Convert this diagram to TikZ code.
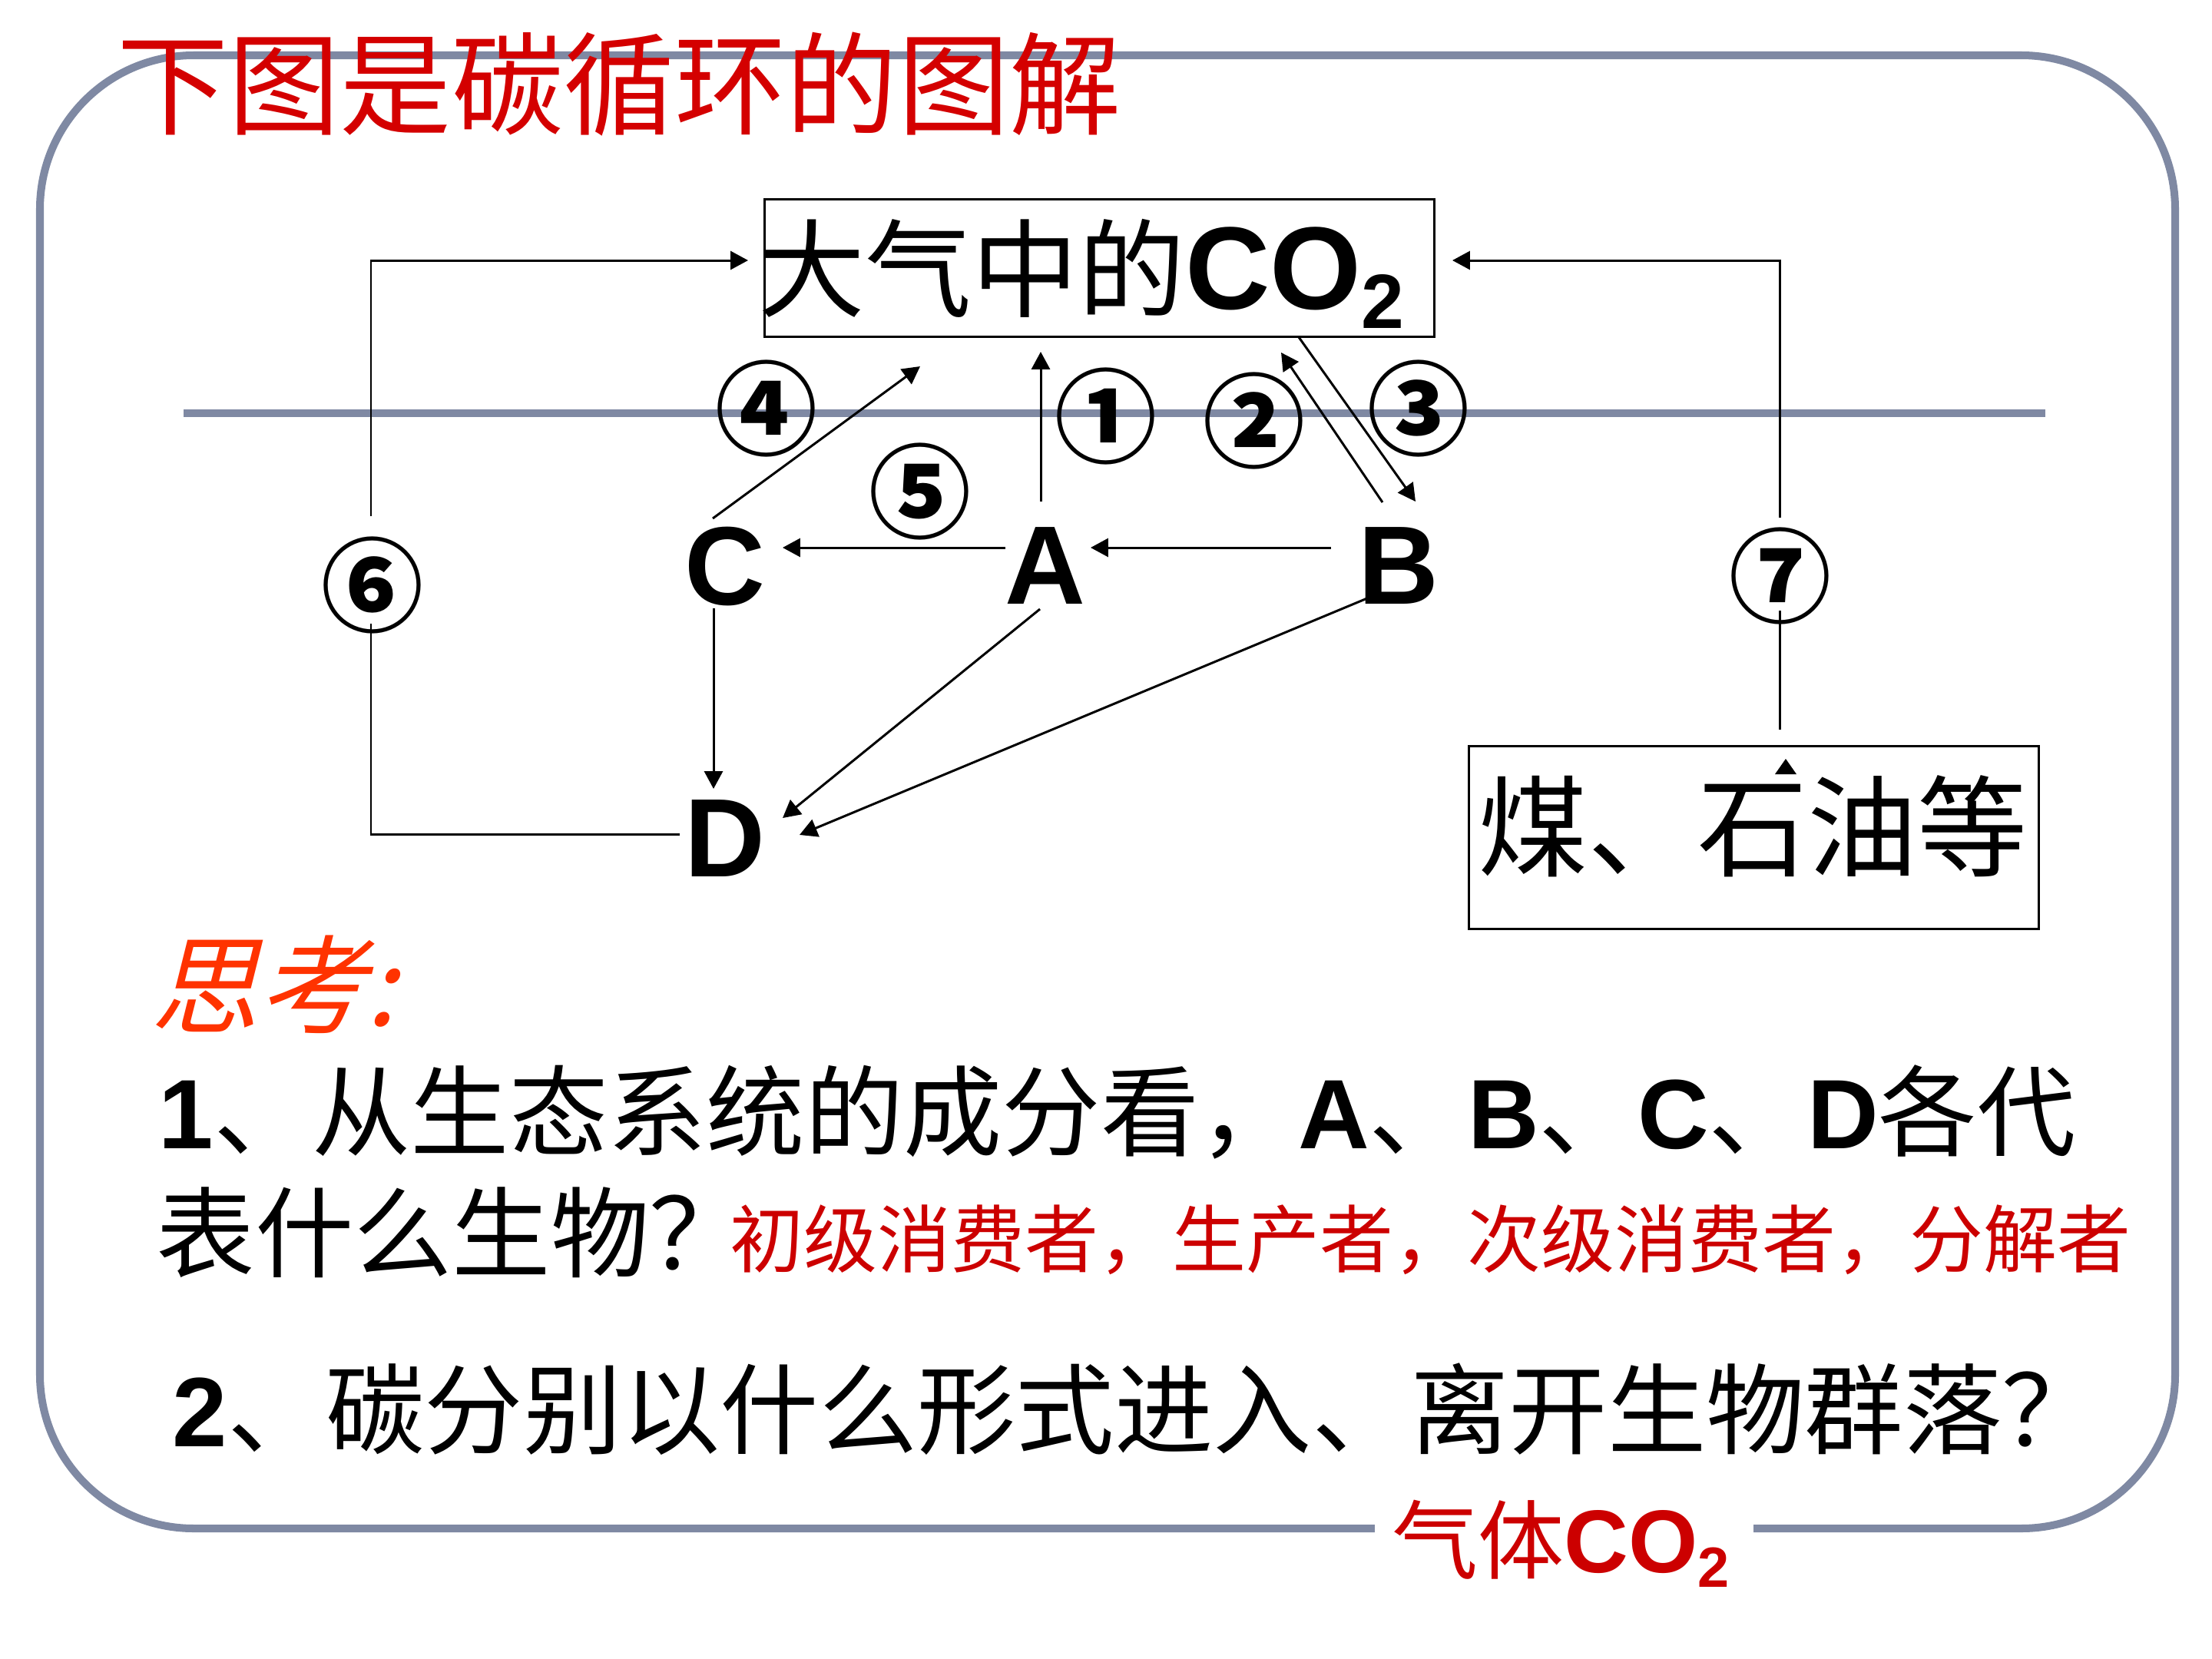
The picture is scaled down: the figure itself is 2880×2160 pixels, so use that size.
\documentclass[tikz,border=0pt]{standalone}
\usepackage{fontspec}
\usetikzlibrary{arrows.meta}
\newfontfamily\cjk{Noto Sans CJK SC}
\newfontfamily\cjksl[FakeSlant=0.25]{Noto Sans CJK SC}
\newfontfamily\arb{Liberation Sans}
\definecolor{framec}{HTML}{7F89A3}
\definecolor{titlered}{HTML}{D40000}
\definecolor{ansred}{HTML}{CC0000}
\definecolor{thinkc}{HTML}{FF3300}
\tikzset{
  conn/.style={line width=0.85pt, black},
  arr/.style={conn, -{Triangle[length=6.5pt,width=6.8pt]}},
  boxnode/.style={draw, line width=0.85pt, inner sep=0pt},
  lbl/.style={inner sep=0pt, font=\arb\bfseries\fontsize{41.3}{45}\selectfont},
  circnum/.style={inner sep=0pt, font=\cjk\bfseries\fontsize{37.8}{40}\selectfont},
  bigcjk/.style={inner sep=0pt, font=\cjk\fontsize{40.7}{44}\selectfont},
  qline/.style={inner sep=0pt, anchor=west, font=\cjk\fontsize{36.5}{40}\selectfont},
}
\begin{document}
\begin{tikzpicture}[x=0.01cm,y=-0.01cm]
\useasboundingbox (0,0) rectangle (2880,2160);
\fill[white] (0,0) rectangle (2880,2160);
% frame and divider
\draw[framec, line width=2.85pt, rounded corners=2cm] (52,72) rectangle (2832,1990);
\draw[framec, line width=2.6pt] (239,538) -- (2663,538);
% title
\node[inner sep=0pt, text=titlered, font=\cjk\fontsize{41.3}{44}\selectfont] (title) at (806,110) {下图是碳循环的图解};
% CO2 box
\node[boxnode, minimum width=8.71cm, minimum height=1.78cm] (co2) at (1431.5,349) {};
\node[inner sep=0pt, font=\cjk\fontsize{39.5}{42}\selectfont] (co2txt) at (1408,356) {大气中的{\arb\bfseries\fontsize{43.5}{46}\selectfont CO\raisebox{-7.1pt}{\fontsize{28.5}{30}\selectfont 2}}};
% letters
\node[lbl] (A) at (1361,737) {A};
\node[lbl] (B) at (1821,737) {B};
\node[lbl] (C) at (944,737) {C};
\node[lbl] (D) at (944,1092) {D};
% circled numbers
\node[circnum] (n1) at (1440,542) {①};
\node[circnum] (n2) at (1633,548) {②};
\node[circnum] (n3) at (1847,532) {③};
\node[circnum] (n4) at (998,532) {④};
\node[circnum] (n5) at (1198,640) {⑤};
\node[circnum] (n6) at (485,762) {⑥};
\node[circnum] (n7) at (2318,750) {⑦};
% coal box
\node[boxnode, minimum width=7.41cm, minimum height=2.37cm] (coal) at (2283.5,1090.5) {};
\node[bigcjk] (coaltxt) at (2282,1076) {煤、石油等};
\fill (2325,988) -- (2311,1008) -- (2339,1008) -- cycle;
% coordinates
\coordinate (n6up) at (483,672);
\coordinate (co2in6) at (974,339);
\coordinate (n6dn) at (483,812);
\coordinate (d6) at (885,1086);
\coordinate (n7up) at (2317,674);
\coordinate (co2in7) at (1891,339);
\coordinate (n7dn) at (2317,795);
\coordinate (coaltop) at (2317,950);
\coordinate (cD1) at (929,792);
\coordinate (cD2) at (929,1027);
\coordinate (aC1) at (1309,713);
\coordinate (aC2) at (1019,713);
\coordinate (bA1) at (1733,713);
\coordinate (bA2) at (1420,713);
\coordinate (a1s) at (1355,653);
\coordinate (a1e) at (1355,458);
\coordinate (c4s) at (928,675);
\coordinate (c4e) at (1198,477);
\coordinate (b2s) at (1800,654);
\coordinate (b2e) at (1668,459);
\coordinate (b3s) at (1691,439);
\coordinate (b3e) at (1843,653);
\coordinate (aDs) at (1354,793);
\coordinate (aDe) at (1019,1065);
\coordinate (bDs) at (1780,779);
\coordinate (bDe) at (1041,1087);
% connectors
\draw[arr] (n6up) |- (co2in6);
\draw[conn] (n6dn) |- (d6);
\draw[arr] (n7up) |- (co2in7);
\draw[conn] (n7dn) -- (coaltop);
\draw[arr] (cD1) -- (cD2);
\draw[arr] (aC1) -- (aC2);
\draw[arr] (bA1) -- (bA2);
\draw[arr] (a1s) -- (a1e);
\draw[arr] (c4s) -- (c4e);
\draw[arr] (b2s) -- (b2e);
\draw[arr] (b3s) -- (b3e);
\draw[arr] (aDs) -- (aDe);
\draw[arr] (bDs) -- (bDe);
% questions
\node[inner sep=0pt, text=thinkc, font=\cjksl\fontsize{39.8}{42}\selectfont] (think) at (356,1282) {思考:};
\node[qline] (q1) at (206,1448) {{\arb\bfseries 1}、从生态系统的成分看，{\arb\bfseries A}、{\arb\bfseries B}、{\arb\bfseries C}、{\arb\bfseries D}各代};
\node[qline] (q2) at (203,1605) {表什么生物？};
\node[inner sep=0pt, anchor=west, text=ansred, font=\cjk\fontsize{27.3}{30}\selectfont] (ans1) at (950,1614) {初级消费者，生产者，次级消费者，分解者};
\node[qline] (q3) at (224,1835) {{\arb\bfseries 2}、碳分别以什么形式进入、离开生物群落？};
\fill[white] (1790,1970) rectangle (2283,2010);
\node[inner sep=0pt, text=ansred, font=\cjk\fontsize{31.9}{34}\selectfont] (ans2) at (2032,2010) {气体{\arb\bfseries\fontsize{33}{36}\selectfont CO\raisebox{-5.5pt}{\fontsize{21}{23}\selectfont 2}}};
\end{tikzpicture}
\end{document}
